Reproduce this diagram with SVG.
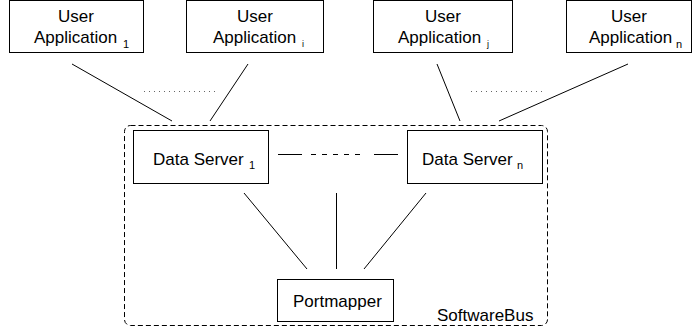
<svg xmlns="http://www.w3.org/2000/svg" width="693" height="334" viewBox="0 0 693 334">
<style>
.box{fill:#fff;stroke:#000;stroke-width:1}
.t{font-family:"Liberation Sans",Arial,sans-serif;font-size:17px;fill:#000}
.s{font-family:"Liberation Sans",Arial,sans-serif;font-size:11px;fill:#000}
.ln{stroke:#000;stroke-width:1;fill:none}
.dot{stroke:#666;stroke-width:1;stroke-dasharray:1 4;fill:none}
</style>
<rect width="693" height="334" fill="#fff"/>
<g id="softwarebus">
<rect x="124.5" y="125.5" width="423" height="200" rx="6" fill="none" stroke="#000" stroke-width="1" stroke-dasharray="5 3"/>
<text class="t" x="437" y="321">SoftwareBus</text>
</g>
<g id="connectors">
<line class="ln" x1="72" y1="64" x2="172" y2="121"/>
<line class="ln" x1="248" y1="64" x2="210" y2="121"/>
<line class="ln" x1="437" y1="64" x2="460" y2="121"/>
<line class="ln" x1="628" y1="64" x2="499" y2="121"/>
<line class="dot" x1="144" y1="91.5" x2="216" y2="91.5"/>
<line class="dot" x1="471" y1="91.5" x2="543" y2="91.5"/>
<line class="ln" x1="278" y1="154.5" x2="302" y2="154.5"/>
<line class="ln" x1="311" y1="154.5" x2="364" y2="154.5" stroke-dasharray="5 6"/>
<line class="ln" x1="374" y1="154.5" x2="398" y2="154.5"/>
<line class="ln" x1="244" y1="193" x2="307" y2="269"/>
<line class="ln" x1="336.5" y1="193" x2="336.5" y2="269"/>
<line class="ln" x1="426" y1="193" x2="364" y2="269"/>
</g>
<g id="app1">
<rect class="box" x="9.5" y="0.5" width="134" height="52"/>
<text class="t" x="76" y="22" text-anchor="middle">User</text>
<text class="t" x="34" y="43">Application</text>
<text class="s" x="123" y="48">1</text>
</g>
<g id="appi">
<rect class="box" x="186.5" y="0.5" width="137" height="52"/>
<text class="t" x="255" y="22" text-anchor="middle">User</text>
<text class="t" x="213" y="43">Application</text>
<text class="s" x="302" y="47" style="font-size:9px">i</text>
</g>
<g id="appj">
<rect class="box" x="373.5" y="0.5" width="139" height="52"/>
<text class="t" x="443" y="22" text-anchor="middle">User</text>
<text class="t" x="398" y="43">Application</text>
<text class="s" x="487" y="47" style="font-size:9px">j</text>
</g>
<g id="appn">
<rect class="box" x="566.5" y="0.5" width="125" height="52"/>
<text class="t" x="629" y="22" text-anchor="middle">User</text>
<text class="t" x="589" y="43">Application</text>
<text class="s" x="676" y="48">n</text>
</g>
<g id="ds1">
<rect class="box" x="133.5" y="130.5" width="135" height="53"/>
<text class="t" x="153" y="165">Data Server</text>
<text class="s" x="249" y="169">1</text>
</g>
<g id="dsn">
<rect class="box" x="407.5" y="130.5" width="135" height="53"/>
<text class="t" x="422" y="165">Data Server</text>
<text class="s" x="517" y="169">n</text>
</g>
<g id="portmapper">
<rect class="box" x="277.5" y="279.5" width="116" height="42"/>
<text class="t" x="293" y="307">Portmapper</text>
</g>
</svg>
